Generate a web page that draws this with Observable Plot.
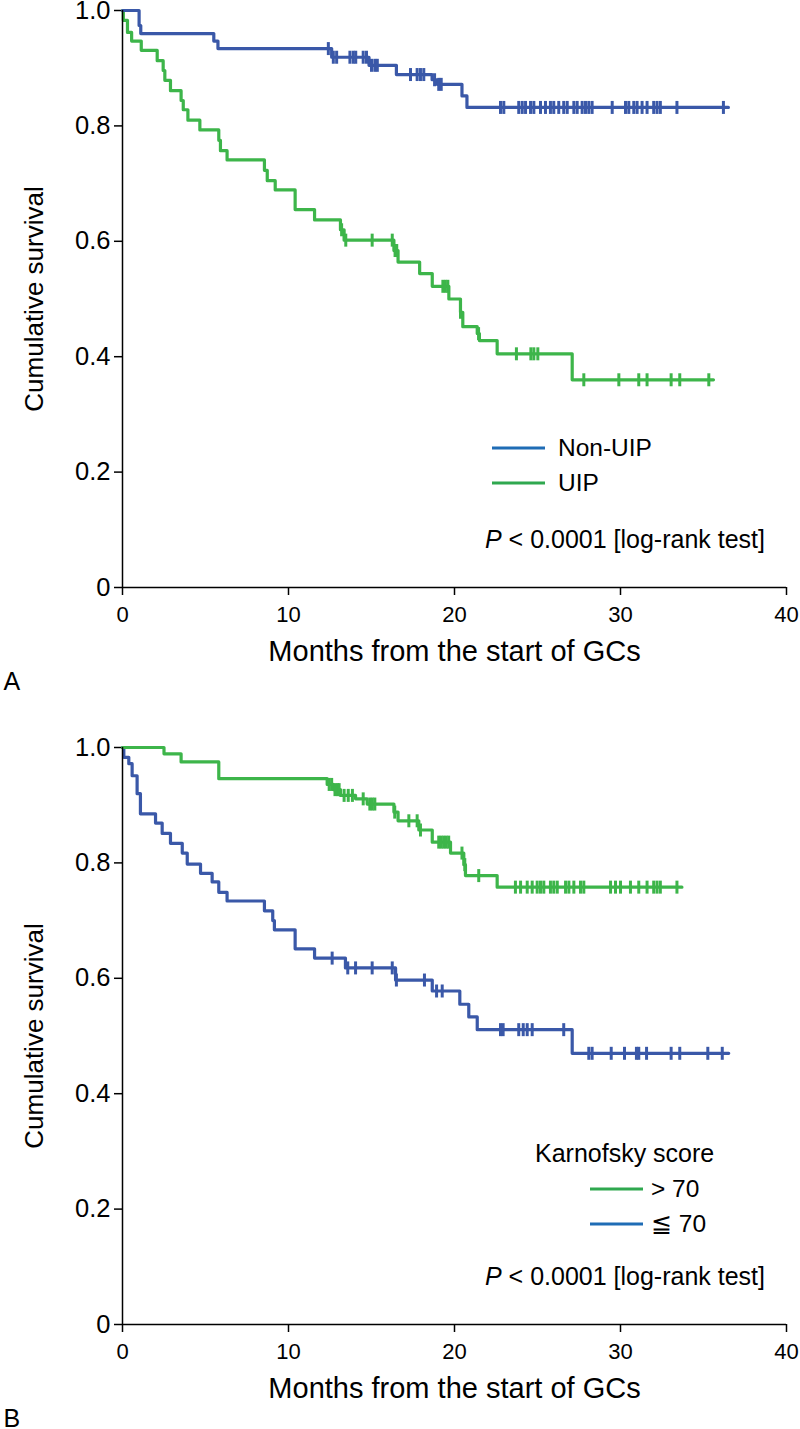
<!DOCTYPE html>
<html><head><meta charset="utf-8">
<script src="https://cdn.jsdelivr.net/npm/d3@7"></script>
<script src="https://cdn.jsdelivr.net/npm/@observablehq/plot@0.6"></script>
<style>
body{margin:0;background:#fff}
#wrap{position:relative;width:800px;height:1429px;font-family:"Liberation Sans",Arial,Helvetica,sans-serif;}
.panel{position:absolute;left:0}
#overlay{position:absolute;left:0;top:0;pointer-events:none}
</style></head><body>
<div id="wrap">
<div id="pa" class="panel" style="top:0"></div>
<div id="pb" class="panel" style="top:714px"></div>
<svg id="overlay" width="800" height="1429" xmlns="http://www.w3.org/2000/svg"></svg>
</div>
<script>
// ---- axes / labels ----
const xTicks = [0, 10, 20, 30, 40];
const yTicks = [0, 0.2, 0.4, 0.6, 0.8, 1.0];
const xTitle = "Months from the start of GCs";
const yTitle = "Cumulative survival";
const pText = "< 0.0001 [log-rank test]";
const panelALegend = ["Non-UIP", "UIP"];
const panelBLegendTitle = "Karnofsky score";
const panelBLegend = ["> 70", "\u2266 70"];

// ---- Panel A: Non-UIP ----
const nonUipTime = [0, 1.0, 1.1, 5.5, 5.75, 12.6, 14.85, 16.5, 18.65, 18.95, 20.45, 20.75, 36.5];
const nonUipSurv = [1.0, 0.974, 0.960, 0.947, 0.934, 0.919, 0.905, 0.889, 0.880, 0.872, 0.852, 0.832, 0.832];
const nonUipCensor = [12.4, 12.7, 12.9, 13.7, 13.9, 14.05, 14.5, 14.7, 15.0, 15.2, 15.35, 17.35, 17.75, 17.95, 18.15, 18.8, 19.05, 19.2,
  22.77, 22.97, 23.87, 24.08, 24.28, 24.58, 24.78, 25.18, 25.48, 25.78, 25.98, 26.28, 26.58, 26.79, 27.19, 27.39, 27.69, 27.89, 28.09, 28.29,
  29.5, 30.3, 30.5, 30.8, 31.0, 31.3, 31.6, 32.0, 32.2, 32.4, 33.4, 36.2];

// ---- Panel A: UIP ----
const uipTime = [0, 0.05, 0.3, 0.55, 1.13, 2.09, 2.45, 2.55, 2.89, 3.53, 3.66, 3.94, 4.66, 5.8, 5.9, 6.3, 8.55, 8.72, 9.2, 10.4, 11.57, 13.13, 13.35, 16.35, 16.6, 17.9, 18.66, 19.66, 20.36, 20.5, 21.37, 21.5, 22.57, 27.09, 35.6];
const uipSurv = [1.0, 0.983, 0.962, 0.947, 0.931, 0.913, 0.896, 0.879, 0.861, 0.844, 0.828, 0.810, 0.793, 0.775, 0.757, 0.741, 0.723, 0.705, 0.689, 0.655, 0.637, 0.620, 0.602, 0.584, 0.564, 0.544, 0.522, 0.500, 0.477, 0.452, 0.440, 0.428, 0.405, 0.360, 0.360];
const uipCensor = [13.2, 13.45, 15.04, 16.25, 16.42, 16.52, 19.3, 19.45, 19.6, 20.36, 21.45, 23.73, 24.6, 24.78, 25.02, 27.79, 29.9, 31.1, 31.6, 33.05, 33.57, 35.32];

// ---- Panel B: Karnofsky > 70 ----
const kHighTime = [0, 2.5, 3.53, 5.8, 12.33, 12.69, 13.13, 14.04, 14.74, 16.35, 16.6, 17.85, 18.66, 19.76, 20.56, 20.66, 22.57, 33.7];
const kHighSurv = [1.0, 0.989, 0.975, 0.946, 0.936, 0.927, 0.917, 0.911, 0.902, 0.888, 0.873, 0.857, 0.836, 0.817, 0.797, 0.778, 0.758, 0.758];
const kHighCensor = [12.45, 12.6, 12.8, 12.95, 13.05, 13.35, 13.6, 13.85, 14.5, 14.9, 15.05, 15.2, 16.4, 17.25, 17.75, 17.95, 19.05, 19.2, 19.35, 19.5, 19.65,
  20.45, 20.62, 21.46, 23.67, 23.98, 24.38, 24.68, 24.98, 25.18, 25.38, 25.78, 25.98, 26.19, 26.69, 26.89, 27.19, 27.59, 27.79,
  29.4, 29.7, 30.0, 30.6, 31.1, 31.6, 32.0, 32.2, 32.4, 33.4];

// ---- Panel B: Karnofsky <= 70 ----
const kLowTime = [0, 0.08, 0.38, 0.58, 0.88, 1.08, 1.99, 2.39, 2.89, 3.6, 3.9, 4.7, 5.4, 5.8, 6.3, 8.55, 9.05, 9.15, 10.4, 11.57, 13.43, 16.45, 18.66, 20.32, 20.86, 21.37, 27.09, 36.52];
const kLowSurv = [1.0, 0.983, 0.972, 0.951, 0.92, 0.885, 0.869, 0.851, 0.834, 0.817, 0.798, 0.782, 0.767, 0.749, 0.734, 0.717, 0.700, 0.684, 0.651, 0.635, 0.618, 0.597, 0.578, 0.555, 0.533, 0.511, 0.470, 0.470];
const kLowCensor = [12.63, 13.57, 14.04, 15.04, 16.25, 16.5, 18.19, 18.92, 19.26, 22.77, 22.93, 23.87, 24.14, 24.38, 24.68, 26.58,
  28.09, 28.29, 29.44, 30.24, 30.96, 31.1, 31.57, 33.05, 33.57, 35.26, 36.13];

const blueCurve = "#3a58a8", greenCurve = "#3db54a";
const blueLegend = "#1f6cb5", greenLegend = "#2fa84f";
const FONT = "Liberation Sans, Arial, Helvetica, sans-serif";

function steps(times, survs) { return times.map((t, i) => ({t, s: survs[i]})); }
function censored(times, survs, cens) {
  return cens.map(c => {
    let s = survs[0];
    for (let i = 0; i < times.length; i++) if (times[i] <= c) s = survs[i];
    return {t: c, s};
  });
}
const censorTick = {draw(ctx, size) { const r = Math.sqrt(size / Math.PI); ctx.moveTo(0, -r); ctx.lineTo(0, r); }};

function curveMarks(times, survs, cens, color) {
  return [
    Plot.line(steps(times, survs), {x: "t", y: "s", curve: "step-after", stroke: color, strokeWidth: 3.2}),
    Plot.dot(censored(times, survs, cens), {x: "t", y: "s", symbol: censorTick, r: 6.5, stroke: color, strokeWidth: 3, fill: "none"})
  ];
}

const yFmt = d => d === 0 ? "0" : d.toFixed(1);

function panel(curves, marginTop, marginBottom, height, letter) {
  return Plot.plot({
    width: 800, height, marginLeft: 122, marginRight: 14, marginTop, marginBottom,
    x: {domain: [0, 40]}, y: {domain: [0, 1]},
    style: {fontFamily: FONT, fontSize: "22px", color: "#000", background: "transparent", overflow: "visible"},
    marks: [
      Plot.axisX({ticks: xTicks, tickSize: 8, label: null, strokeWidth: 1.5, fill: "none"}),
      Plot.axisY({ticks: yTicks, tickSize: 8, label: null, strokeWidth: 1.5, fill: "none"}),
      Plot.text(xTicks, {x: d => d, text: d => String(d), frameAnchor: "bottom", dy: 34, fontSize: 22, fill: "#000"}),
      Plot.text(yTicks, {y: d => d, text: yFmt, frameAnchor: "left", textAnchor: "end", dx: -12, fontSize: 25.5, fill: "#000"}),
      ...curves,
      Plot.ruleY([0], {x1: 0, x2: 40, stroke: "#000", strokeWidth: 1.5}),
      Plot.ruleX([0], {y1: 0, y2: 1, stroke: "#000", strokeWidth: 1.5}),
      Plot.text([xTitle], {text: d => d, frameAnchor: "bottom", dy: 73.5, fontSize: 29, fill: "#000"}),
      Plot.text([yTitle], {text: d => d, frameAnchor: "left", textAnchor: "middle", dx: -88, rotate: -90, fontSize: 26, fill: "#000"}),
      Plot.text([letter], {text: d => d, frameAnchor: "bottom-left", dx: -119, dy: 102, fontSize: 25, fill: "#000"})
    ]
  });
}

document.getElementById("pa").append(panel(
  [...curveMarks(uipTime, uipSurv, uipCensor, greenCurve), ...curveMarks(nonUipTime, nonUipSurv, nonUipCensor, blueCurve)],
  10, 127, 714, "A"));
document.getElementById("pb").append(panel(
  [...curveMarks(kLowTime, kLowSurv, kLowCensor, blueCurve), ...curveMarks(kHighTime, kHighSurv, kHighCensor, greenCurve)],
  33, 105, 715, "B"));

// ---- overlay: legends and p-values ----
const ov = d3.select("#overlay").style("font-family", FONT);
function legendRow(x1, x2, yLine, tx, tBase, color, label) {
  ov.append("line").attr("x1", x1).attr("x2", x2).attr("y1", yLine).attr("y2", yLine).attr("stroke", color).attr("stroke-width", 3);
  ov.append("text").attr("x", tx).attr("y", tBase).attr("font-size", 24.5).attr("fill", "#000").text(label);
}
legendRow(492, 545, 448, 558, 456, blueLegend, panelALegend[0]);
legendRow(492, 545, 483, 558, 491, greenLegend, panelALegend[1]);
ov.append("text").attr("x", 535).attr("y", 1162).attr("font-size", 25).attr("fill", "#000").text(panelBLegendTitle);
legendRow(590, 643, 1189, 651, 1197, greenLegend, panelBLegend[0]);
legendRow(590, 643, 1224, 651, 1232, blueLegend, panelBLegend[1]);
function pValue(yBase) {
  const t = ov.append("text").attr("x", 765).attr("y", yBase).attr("font-size", 25).attr("text-anchor", "end").attr("fill", "#000");
  t.append("tspan").attr("font-style", "italic").text("P");
  t.append("tspan").text(" " + pText);
}
pValue(548);
pValue(1285);
</script>
</body></html>
